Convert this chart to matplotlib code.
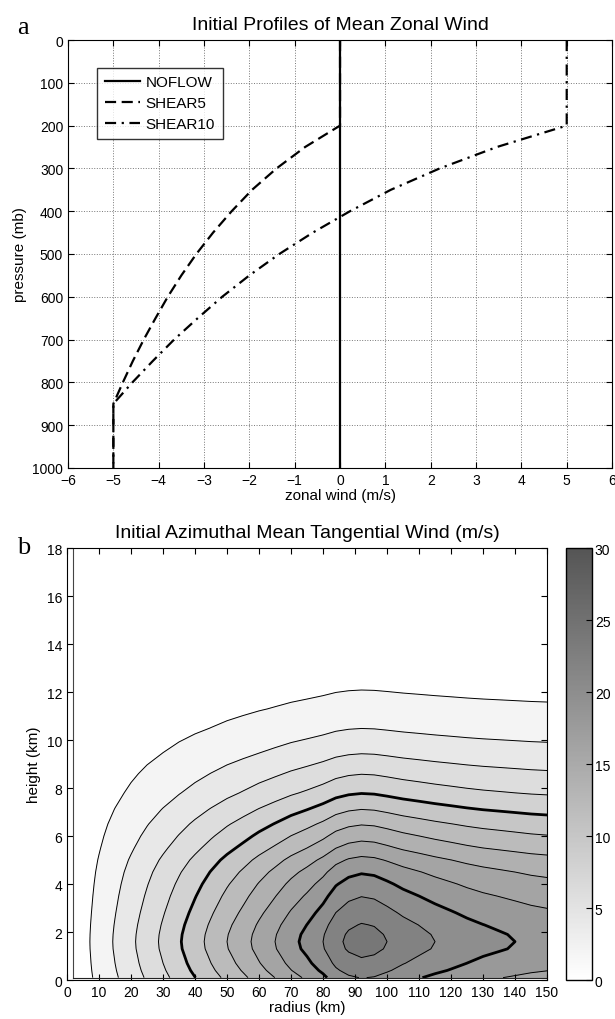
import numpy as np
import matplotlib
matplotlib.use("Agg")
import matplotlib.pyplot as plt
from matplotlib.colors import LinearSegmentedColormap, Normalize
from matplotlib.cm import ScalarMappable

plt.rcParams['font.family'] = ['Liberation Sans', 'DejaVu Sans']
plt.rcParams['font.size'] = 10

# ---- panel a: mean zonal wind profiles ----
p_mb = [0, 100, 200, 250, 300, 350, 400, 450, 500, 550, 600, 650, 700, 750, 800, 850, 900, 1000]
noflow = [0] * len(p_mb)
shear5 = [0, 0, 0, -0.77, -1.40, -1.94, -2.39, -2.80, -3.17, -3.50, -3.80, -4.07,
          -4.33, -4.57, -4.79, -5.0, -5.0, -5.0]
shear10 = [5, 5, 5, 3.46, 2.20, 1.12, 0.22, -0.60, -1.34, -2.00, -2.60, -3.14,
           -3.66, -4.13, -4.58, -5.0, -5.0, -5.0]

# ---- panel b: tangential wind, read as a radial and a vertical profile ----
r_km = [2, 5, 10, 15, 20, 25, 30, 35, 40, 45, 50, 55, 60, 65, 70, 75, 80, 84, 88, 92,
        96, 100, 105, 110, 115, 120, 125, 130, 135, 140, 145, 150]
v_radial = [0.55, 1.4, 2.8, 4.2, 5.6, 7.0, 8.4, 9.8, 11.2, 12.6, 14.0, 15.3, 16.7, 18.0,
            19.4, 20.6, 22.0, 23.5, 24.4, 24.8, 24.6, 24.0, 23.2, 22.6, 22.0, 21.5, 21.0,
            20.6, 20.3, 20.0, 19.7, 19.5]
z_km = [0.1, 0.4, 0.7, 1.0, 1.3, 1.6, 1.9, 2.3, 2.8, 3.5, 4.0, 4.5, 5.0, 5.5, 6.0, 6.5,
        7.1, 7.8, 8.6, 9.45, 10.5, 11.3, 12.1, 12.8, 14, 16, 18]
v_vertical = [0.89, 0.925, 0.952, 0.972, 0.993, 1.0, 0.993, 0.972, 0.937, 0.885, 0.845,
              0.80, 0.745, 0.68, 0.62, 0.56, 0.485, 0.40, 0.32, 0.24, 0.16, 0.115, 0.08,
              0.05, 0.03, 0.01, 0.0]

fig = plt.figure(figsize=(6.15, 10.2), dpi=100)

ax1 = fig.add_axes([0.1106, 0.5402, 0.8846, 0.4196])
ax1.plot(noflow, p_mb, 'k-', lw=1.6, label='NOFLOW')
ax1.plot(shear5, p_mb, 'k--', lw=1.6, dashes=(5, 2.5), label='SHEAR5')
ax1.plot(shear10, p_mb, 'k-.', lw=1.6, dashes=(5, 2.5, 1, 2.5), label='SHEAR10')
ax1.set_xlim(-6, 6)
ax1.set_ylim(1000, 0)
ax1.set_xticks(range(-6, 7))
ax1.set_xticklabels([str(v).replace('-', '\u2212') for v in range(-6, 7)])
ax1.set_yticks(range(0, 1001, 100))
ax1.grid(True, ls=':', color='#777777', lw=0.7)
ax1.tick_params(direction='in', top=True, right=True, labelsize=10, length=4)
ax1.set_xlabel('zonal wind (m/s)', fontsize=11, labelpad=1)
ax1.set_ylabel('pressure (mb)', fontsize=11, labelpad=4)
ax1.set_title('Initial Profiles of Mean Zonal Wind', fontsize=14, pad=8)
leg = ax1.legend(loc='upper left', bbox_to_anchor=(0.039, 0.953), fontsize=11,
                 frameon=True, fancybox=False, edgecolor='k', handlelength=2.3,
                 handletextpad=0.4, borderpad=0.5, labelspacing=0.45)
leg.get_frame().set_linewidth(1.0)
fig.text(0.028, 0.973, 'a', family='Liberation Serif', fontsize=19, va='center')

ax2 = fig.add_axes([0.109, 0.0382, 0.7805, 0.4235])
cax = fig.add_axes([0.9203, 0.0382, 0.0423, 0.4235])

cmap = LinearSegmentedColormap.from_list('wg', ['#ffffff', '#555555'])
norm = Normalize(0, 30)
levels = np.arange(0, 28, 2)
R, Z = np.meshgrid(r_km, z_km)
V = np.outer(v_vertical, v_radial)
band_colors = [cmap(norm(l)) for l in levels[:-1]]
ax2.contourf(R, Z, V, levels=levels, colors=band_colors)
line_levels = levels[1:-1]
widths = [2.0 if l in (10, 20) else 0.7 for l in line_levels]
ax2.contour(R, Z, V, levels=line_levels, colors='k', linewidths=widths)
ax2.plot([r_km[0], r_km[0]], [z_km[0], z_km[-1]], color='#444444', lw=0.8)
ax2.plot([r_km[0], r_km[-1]], [z_km[0], z_km[0]], color='#222222', lw=0.8)
ax2.set_xlim(0, 150)
ax2.set_ylim(0, 18)
ax2.set_xticks(range(0, 151, 10))
ax2.set_yticks(range(0, 19, 2))
ax2.tick_params(direction='in', top=True, right=True, labelsize=10, length=4)
ax2.set_xlabel('radius (km)', fontsize=11, labelpad=1)
ax2.set_ylabel('height (km)', fontsize=11, labelpad=4)
ax2.set_title('Initial Azimuthal Mean Tangential Wind (m/s)', fontsize=14, pad=8)
fig.text(0.028, 0.463, 'b', family='Liberation Serif', fontsize=19, va='center')

cb = fig.colorbar(ScalarMappable(norm=norm, cmap=cmap), cax=cax, ticks=range(0, 31, 5))
cb.ax.tick_params(direction='in', labelsize=10, length=4, pad=2)
cb.outline.set_linewidth(1.0)

fig.savefig('out.png', dpi=100)
